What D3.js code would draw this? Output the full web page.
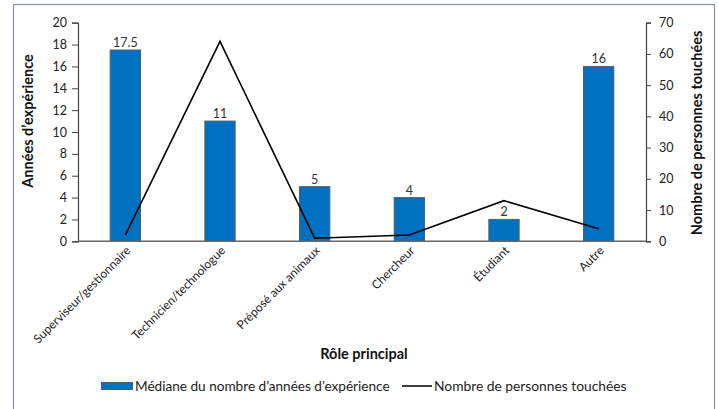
<!DOCTYPE html>
<html>
<head>
<meta charset="utf-8">
<script src="https://cdn.jsdelivr.net/npm/d3@7"></script>
<style>
  html, body { margin: 0; padding: 0; background: #fff; }
  svg { display: block; font-family: Lato, "Open Sans", sans-serif; }
</style>
</head>
<body>
<svg id="chart" width="719" height="409"></svg>
<script>
// Rôles et valeurs
const categories = ["Superviseur/gestionnaire", "Technicien/technologue", "Préposé aux animaux", "Chercheur", "Étudiant", "Autre"];
const medianYears = [17.5, 11, 5, 4, 2, 16];
const peopleCount = [2, 64, 1, 2, 13, 4];
const leftTicks = [0, 2, 4, 6, 8, 10, 12, 14, 16, 18, 20];
const rightTicks = [0, 10, 20, 30, 40, 50, 60, 70];

const svg = d3.select("#chart");
const plot = { left: 78, right: 646, top: 22.7, bottom: 241.3 };

// Cadre
svg.append("rect")
  .attr("x", 13.5).attr("y", 4.5).attr("width", 701).attr("height", 420)
  .attr("fill", "none").attr("stroke", "#8a949e").attr("stroke-width", 1.2);

const x = d3.scaleBand().domain(categories).range([plot.left, plot.right]).paddingInner(0.68).paddingOuter(0.34);
const yL = d3.scaleLinear().domain([0, 20]).range([plot.bottom, plot.top]);
const yR = d3.scaleLinear().domain([0, 70]).range([plot.bottom, plot.top]);

// Barres
svg.append("g").selectAll("rect").data(categories).join("rect")
  .attr("x", d => x(d))
  .attr("y", (d, i) => yL(medianYears[i]))
  .attr("width", x.bandwidth())
  .attr("height", (d, i) => yL(0) - yL(medianYears[i]))
  .attr("fill", "#0070c0")
  .attr("stroke", "#555d66")
  .attr("stroke-width", 1);

// Étiquettes de valeur
svg.append("g").selectAll("text").data(categories).join("text")
  .attr("x", d => x(d) + x.bandwidth() / 2)
  .attr("y", (d, i) => yL(medianYears[i]) - 3)
  .attr("text-anchor", "middle")
  .attr("font-size", 12.5)
  .attr("fill", "#333")
  .text((d, i) => medianYears[i]);

// Ligne : nombre de personnes touchées
const line = d3.line()
  .x((d, i) => x(categories[i]) + x.bandwidth() / 2)
  .y(d => yR(d));
svg.append("path").datum(peopleCount)
  .attr("d", line)
  .attr("fill", "none")
  .attr("stroke", "#000")
  .attr("stroke-width", 1.6);

// Axe gauche
const axL = svg.append("g").attr("transform", `translate(${plot.left},0)`)
  .call(d3.axisLeft(yL).tickValues(leftTicks).tickSize(6).tickPadding(5));
// Axe droit
const axR = svg.append("g").attr("transform", `translate(${plot.right},0)`)
  .call(d3.axisRight(yR).tickValues(rightTicks).tickSize(5).tickPadding(8));
// Axe des x
const axX = svg.append("g").attr("transform", `translate(0,${plot.bottom})`)
  .call(d3.axisBottom(x).tickSize(0).tickPadding(0));

[axL, axR].forEach(g => {
  g.select(".domain").attr("stroke", "#444").attr("stroke-width", 1.2);
  g.selectAll(".tick line").attr("stroke", "#444");
  g.selectAll(".tick text").attr("font-size", 12.5).attr("fill", "#222").attr("font-family", "Lato, sans-serif");
});
axX.select(".domain").attr("stroke", "#666").attr("stroke-width", 1.5)
  .attr("d", `M${plot.left},0H${plot.right}`);
axX.selectAll(".tick text")
  .attr("font-size", 12)
  .attr("fill", "#222")
  .attr("font-family", "Lato, sans-serif")
  .attr("text-anchor", "end")
  .attr("dy", 0)
  .attr("transform", "translate(6,10) rotate(-45)");

// Titres des axes
svg.append("text")
  .attr("transform", "translate(33,121) rotate(-90)")
  .attr("text-anchor", "middle")
  .attr("font-size", 14.5).attr("font-weight", "bold").attr("fill", "#111")
  .text("Années d’expérience");
svg.append("text")
  .attr("transform", "translate(702,133) rotate(-90)")
  .attr("text-anchor", "middle")
  .attr("font-size", 14.5).attr("font-weight", "bold").attr("fill", "#111")
  .text("Nombre de personnes touchées");
svg.append("text")
  .attr("x", 364).attr("y", 359)
  .attr("text-anchor", "middle")
  .attr("font-size", 14.5).attr("font-weight", "bold").attr("fill", "#111")
  .text("Rôle principal");

// Légende
const lg = svg.append("g");
lg.append("rect").attr("x", 101.5).attr("y", 382.5).attr("width", 31).attr("height", 7)
  .attr("fill", "#0070c0").attr("stroke", "#555d66");
lg.append("text").attr("x", 135).attr("y", 391)
  .attr("font-size", 13.6).attr("fill", "#222")
  .text("Médiane du nombre d’années d’expérience");
lg.append("line").attr("x1", 402).attr("x2", 432).attr("y1", 386).attr("y2", 386)
  .attr("stroke", "#000").attr("stroke-width", 1.5);
lg.append("text").attr("x", 434).attr("y", 391)
  .attr("font-size", 13.8).attr("fill", "#222")
  .text("Nombre de personnes touchées");
</script>
</body>
</html>
